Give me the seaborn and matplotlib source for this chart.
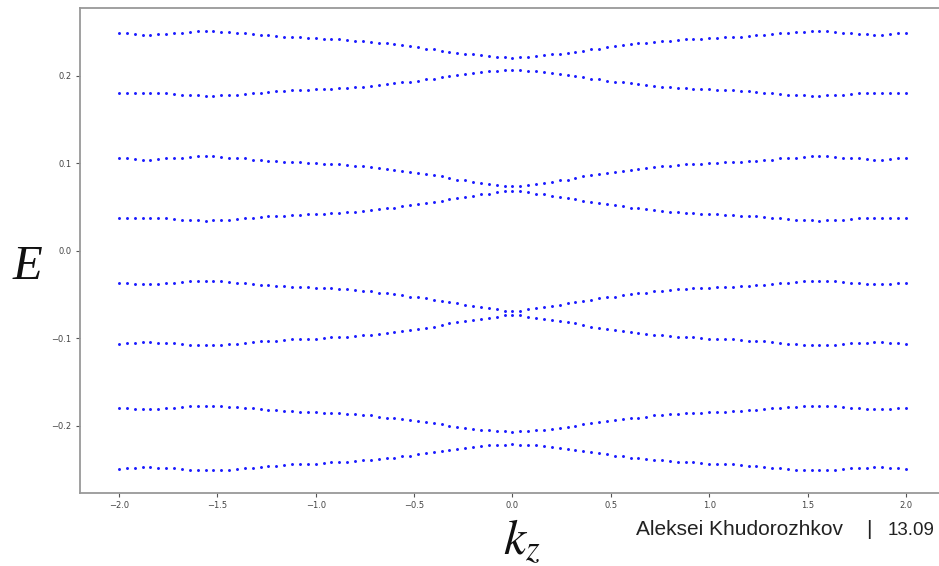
import numpy as np
import pandas as pd
import matplotlib
matplotlib.use("Agg")
import matplotlib.pyplot as plt
import seaborn as sns

# ---------------- data ----------------
k_start, k_stop, k_count = -2.0, 2.0, 101
k_values = np.round(np.linspace(k_start, k_stop, k_count), 2)

band_1 = [0.2496, 0.2488, 0.2481, 0.2473, 0.2473, 0.2481, 0.2481, 0.2488, 0.2496, 0.2503,
          0.2511, 0.2511, 0.2511, 0.2503, 0.2503, 0.2496, 0.2488, 0.2481, 0.2473, 0.2465,
          0.2458, 0.2450, 0.2442, 0.2442, 0.2435, 0.2435, 0.2427, 0.2420, 0.2420, 0.2412,
          0.2404, 0.2397, 0.2389, 0.2381, 0.2374, 0.2366, 0.2351, 0.2343, 0.2328, 0.2313,
          0.2305, 0.2290, 0.2275, 0.2267, 0.2255, 0.2248, 0.2236, 0.2225, 0.2221, 0.2217,
          0.2210,
          0.2217, 0.2221, 0.2225, 0.2236, 0.2248, 0.2255, 0.2267, 0.2275, 0.2290, 0.2305,
          0.2313, 0.2328, 0.2343, 0.2351, 0.2366, 0.2374, 0.2381, 0.2389, 0.2397, 0.2404,
          0.2412, 0.2420, 0.2420, 0.2427, 0.2435, 0.2435, 0.2442, 0.2442, 0.2450, 0.2458,
          0.2465, 0.2473, 0.2481, 0.2488, 0.2496, 0.2503, 0.2503, 0.2511, 0.2511, 0.2511,
          0.2503, 0.2496, 0.2488, 0.2481, 0.2481, 0.2473, 0.2473, 0.2481, 0.2488, 0.2496]

band_2 = [0.1802, 0.1802, 0.1809, 0.1809, 0.1809, 0.1809, 0.1802, 0.1794, 0.1786, 0.1779,
          0.1779, 0.1771, 0.1771, 0.1779, 0.1786, 0.1786, 0.1794, 0.1802, 0.1809, 0.1817,
          0.1825, 0.1832, 0.1836, 0.1840, 0.1840, 0.1847, 0.1851, 0.1855, 0.1859, 0.1866,
          0.1870, 0.1874, 0.1882, 0.1897, 0.1908, 0.1916, 0.1927, 0.1931, 0.1947, 0.1962,
          0.1970, 0.1985, 0.2000, 0.2011, 0.2027, 0.2034, 0.2046, 0.2053, 0.2061, 0.2065,
          0.2069,
          0.2065, 0.2061, 0.2053, 0.2046, 0.2034, 0.2027, 0.2011, 0.2000, 0.1985, 0.1970,
          0.1962, 0.1947, 0.1931, 0.1927, 0.1916, 0.1908, 0.1897, 0.1882, 0.1874, 0.1870,
          0.1866, 0.1859, 0.1855, 0.1851, 0.1847, 0.1840, 0.1840, 0.1836, 0.1832, 0.1825,
          0.1817, 0.1809, 0.1802, 0.1794, 0.1786, 0.1786, 0.1779, 0.1771, 0.1771, 0.1779,
          0.1779, 0.1786, 0.1794, 0.1802, 0.1809, 0.1809, 0.1809, 0.1809, 0.1802, 0.1802]

band_3 = [0.1066, 0.1058, 0.1050, 0.1043, 0.1043, 0.1050, 0.1058, 0.1058, 0.1066, 0.1073,
          0.1081, 0.1081, 0.1081, 0.1073, 0.1066, 0.1066, 0.1058, 0.1043, 0.1035, 0.1027,
          0.1027, 0.1020, 0.1012, 0.1012, 0.1005, 0.1005, 0.0997, 0.0989, 0.0989, 0.0982,
          0.0974, 0.0966, 0.0959, 0.0951, 0.0936, 0.0928, 0.0917, 0.0905, 0.0890, 0.0879,
          0.0867, 0.0852, 0.0829, 0.0814, 0.0806, 0.0791, 0.0780, 0.0768, 0.0753, 0.0738,
          0.0738,
          0.0738, 0.0753, 0.0768, 0.0780, 0.0791, 0.0806, 0.0814, 0.0829, 0.0852, 0.0867,
          0.0879, 0.0890, 0.0905, 0.0917, 0.0928, 0.0936, 0.0951, 0.0959, 0.0966, 0.0974,
          0.0982, 0.0989, 0.0989, 0.0997, 0.1005, 0.1005, 0.1012, 0.1012, 0.1020, 0.1027,
          0.1027, 0.1035, 0.1043, 0.1058, 0.1066, 0.1066, 0.1073, 0.1081, 0.1081, 0.1081,
          0.1073, 0.1066, 0.1058, 0.1058, 0.1050, 0.1043, 0.1043, 0.1050, 0.1058, 0.1066]

band_4 = [0.0371, 0.0371, 0.0379, 0.0379, 0.0379, 0.0379, 0.0371, 0.0364, 0.0356, 0.0349,
          0.0349, 0.0341, 0.0349, 0.0349, 0.0356, 0.0364, 0.0371, 0.0379, 0.0387, 0.0394,
          0.0398, 0.0402, 0.0410, 0.0410, 0.0417, 0.0425, 0.0425, 0.0429, 0.0432, 0.0440,
          0.0448, 0.0455, 0.0463, 0.0478, 0.0486, 0.0493, 0.0509, 0.0524, 0.0532, 0.0543,
          0.0558, 0.0574, 0.0589, 0.0600, 0.0616, 0.0631, 0.0646, 0.0654, 0.0669, 0.0684,
          0.0684,
          0.0684, 0.0669, 0.0654, 0.0646, 0.0631, 0.0616, 0.0600, 0.0589, 0.0574, 0.0558,
          0.0543, 0.0532, 0.0524, 0.0509, 0.0493, 0.0486, 0.0478, 0.0463, 0.0455, 0.0448,
          0.0440, 0.0432, 0.0429, 0.0425, 0.0425, 0.0417, 0.0410, 0.0410, 0.0402, 0.0398,
          0.0394, 0.0387, 0.0379, 0.0371, 0.0364, 0.0356, 0.0349, 0.0349, 0.0341, 0.0349,
          0.0349, 0.0356, 0.0364, 0.0371, 0.0379, 0.0379, 0.0379, 0.0379, 0.0371, 0.0371]

band_5 = [-0.0371, -0.0371, -0.0379, -0.0379, -0.0379, -0.0379, -0.0371, -0.0364, -0.0356, -0.0349,
          -0.0349, -0.0341, -0.0349, -0.0349, -0.0356, -0.0364, -0.0371, -0.0379, -0.0387, -0.0394,
          -0.0398, -0.0402, -0.0410, -0.0410, -0.0417, -0.0425, -0.0425, -0.0429, -0.0432, -0.0440,
          -0.0448, -0.0455, -0.0463, -0.0478, -0.0486, -0.0493, -0.0509, -0.0524, -0.0532, -0.0543,
          -0.0558, -0.0574, -0.0589, -0.0600, -0.0616, -0.0631, -0.0646, -0.0654, -0.0669, -0.0684,
          -0.0684,
          -0.0684, -0.0669, -0.0654, -0.0646, -0.0631, -0.0616, -0.0600, -0.0589, -0.0574, -0.0558,
          -0.0543, -0.0532, -0.0524, -0.0509, -0.0493, -0.0486, -0.0478, -0.0463, -0.0455, -0.0448,
          -0.0440, -0.0432, -0.0429, -0.0425, -0.0425, -0.0417, -0.0410, -0.0410, -0.0402, -0.0398,
          -0.0394, -0.0387, -0.0379, -0.0371, -0.0364, -0.0356, -0.0349, -0.0349, -0.0341, -0.0349,
          -0.0349, -0.0356, -0.0364, -0.0371, -0.0379, -0.0379, -0.0379, -0.0379, -0.0371, -0.0371]

band_6 = [-0.1066, -0.1058, -0.1050, -0.1043, -0.1043, -0.1050, -0.1058, -0.1058, -0.1066, -0.1073,
          -0.1081, -0.1081, -0.1081, -0.1073, -0.1066, -0.1066, -0.1058, -0.1043, -0.1035, -0.1027,
          -0.1027, -0.1020, -0.1012, -0.1012, -0.1005, -0.1005, -0.0997, -0.0989, -0.0989, -0.0982,
          -0.0974, -0.0966, -0.0959, -0.0951, -0.0936, -0.0928, -0.0917, -0.0905, -0.0890, -0.0879,
          -0.0867, -0.0852, -0.0829, -0.0814, -0.0806, -0.0791, -0.0780, -0.0768, -0.0753, -0.0738,
          -0.0738,
          -0.0738, -0.0753, -0.0768, -0.0780, -0.0791, -0.0806, -0.0814, -0.0829, -0.0852, -0.0867,
          -0.0879, -0.0890, -0.0905, -0.0917, -0.0928, -0.0936, -0.0951, -0.0959, -0.0966, -0.0974,
          -0.0982, -0.0989, -0.0989, -0.0997, -0.1005, -0.1005, -0.1012, -0.1012, -0.1020, -0.1027,
          -0.1027, -0.1035, -0.1043, -0.1058, -0.1066, -0.1066, -0.1073, -0.1081, -0.1081, -0.1081,
          -0.1073, -0.1066, -0.1058, -0.1058, -0.1050, -0.1043, -0.1043, -0.1050, -0.1058, -0.1066]

band_7 = [-0.1802, -0.1802, -0.1809, -0.1809, -0.1809, -0.1809, -0.1802, -0.1794, -0.1786, -0.1779,
          -0.1779, -0.1771, -0.1771, -0.1779, -0.1786, -0.1786, -0.1794, -0.1802, -0.1809, -0.1817,
          -0.1825, -0.1832, -0.1836, -0.1840, -0.1840, -0.1847, -0.1851, -0.1855, -0.1859, -0.1866,
          -0.1870, -0.1874, -0.1882, -0.1897, -0.1908, -0.1916, -0.1927, -0.1931, -0.1947, -0.1962,
          -0.1970, -0.1985, -0.2000, -0.2011, -0.2027, -0.2034, -0.2046, -0.2053, -0.2061, -0.2065,
          -0.2069,
          -0.2065, -0.2061, -0.2053, -0.2046, -0.2034, -0.2027, -0.2011, -0.2000, -0.1985, -0.1970,
          -0.1962, -0.1947, -0.1931, -0.1927, -0.1916, -0.1908, -0.1897, -0.1882, -0.1874, -0.1870,
          -0.1866, -0.1859, -0.1855, -0.1851, -0.1847, -0.1840, -0.1840, -0.1836, -0.1832, -0.1825,
          -0.1817, -0.1809, -0.1802, -0.1794, -0.1786, -0.1786, -0.1779, -0.1771, -0.1771, -0.1779,
          -0.1779, -0.1786, -0.1794, -0.1802, -0.1809, -0.1809, -0.1809, -0.1809, -0.1802, -0.1802]

band_8 = [-0.2496, -0.2488, -0.2481, -0.2473, -0.2473, -0.2481, -0.2481, -0.2488, -0.2496, -0.2503,
          -0.2511, -0.2511, -0.2511, -0.2503, -0.2503, -0.2496, -0.2488, -0.2481, -0.2473, -0.2465,
          -0.2458, -0.2450, -0.2442, -0.2442, -0.2435, -0.2435, -0.2427, -0.2420, -0.2420, -0.2412,
          -0.2404, -0.2397, -0.2389, -0.2381, -0.2374, -0.2366, -0.2351, -0.2343, -0.2328, -0.2313,
          -0.2305, -0.2290, -0.2275, -0.2267, -0.2255, -0.2248, -0.2236, -0.2225, -0.2221, -0.2217,
          -0.2210,
          -0.2217, -0.2221, -0.2225, -0.2236, -0.2248, -0.2255, -0.2267, -0.2275, -0.2290, -0.2305,
          -0.2313, -0.2328, -0.2343, -0.2351, -0.2366, -0.2374, -0.2381, -0.2389, -0.2397, -0.2404,
          -0.2412, -0.2420, -0.2420, -0.2427, -0.2435, -0.2435, -0.2442, -0.2442, -0.2450, -0.2458,
          -0.2465, -0.2473, -0.2481, -0.2488, -0.2496, -0.2503, -0.2503, -0.2511, -0.2511, -0.2511,
          -0.2503, -0.2496, -0.2488, -0.2481, -0.2481, -0.2473, -0.2473, -0.2481, -0.2488, -0.2496]

bands = [band_1, band_2, band_3, band_4, band_5, band_6, band_7, band_8]

x_ticks = [-2.0, -1.5, -1.0, -0.5, 0.0, 0.5, 1.0, 1.5, 2.0]
y_ticks = [-0.2, -0.1, 0.0, 0.1, 0.2]

author_text = "Aleksei Khudorozhkov"
date_text = "13.09"

# ---------------- table ----------------
rows = []
for b_idx, band in enumerate(bands):
    for kv, ev in zip(k_values, band):
        rows.append({"k": kv, "E": ev, "band": b_idx})
df = pd.DataFrame(rows)

# ---------------- plot ----------------
sns.set_theme(style="ticks")
plt.rcParams["font.family"] = ["DejaVu Sans"]
plt.rcParams["mathtext.fontset"] = "stix"

W, H = 939, 566
fig = plt.figure(figsize=(W / 100, H / 100), dpi=100)
ax_left, ax_top, ax_bottom, ax_width = 79.6, 8, 493, 865.7
ax = fig.add_axes([ax_left / W, 1 - ax_bottom / H, ax_width / W, (ax_bottom - ax_top) / H])

sns.scatterplot(data=df, x="k", y="E", color="#1a1aff", s=4.5, linewidth=0,
                marker="o", ax=ax, legend=False)

ax.set_xlim(-2.2, 2.2)
ax.set_ylim(-0.2771, 0.2778)
ax.set_xticks(x_ticks)
ax.set_yticks(y_ticks)
ax.set_xlabel("")
ax.set_ylabel("")

for sp in ax.spines.values():
    sp.set_color("#999999")
    sp.set_linewidth(1.3)
ax.tick_params(axis="both", which="major", labelsize=6, colors="#555555",
               length=3, width=0.8, pad=3)
for lab in ax.get_xticklabels() + ax.get_yticklabels():
    lab.set_color("#444444")


def px(x, y):
    return x / W, 1 - y / H


fig.text(*px(13, 279), "E", fontsize=35, fontstyle="italic",
         family=["Liberation Serif", "DejaVu Serif"], color="#111111",
         ha="left", va="baseline")

fig.text(*px(503, 554), r"$k_z$", fontsize=36, color="#111111",
         ha="left", va="baseline")

fig.text(*px(636, 535), author_text, fontsize=15,
         family=["Liberation Sans", "DejaVu Sans"], color="#222222",
         ha="left", va="baseline")
fig.text(*px(866, 535), "|", fontsize=15,
         family=["Liberation Sans", "DejaVu Sans"], color="#222222",
         ha="left", va="baseline")
fig.text(*px(888, 535), date_text, fontsize=13.5,
         family=["Liberation Sans", "DejaVu Sans"], color="#222222",
         ha="left", va="baseline")

fig.savefig("out.png", dpi=100)
